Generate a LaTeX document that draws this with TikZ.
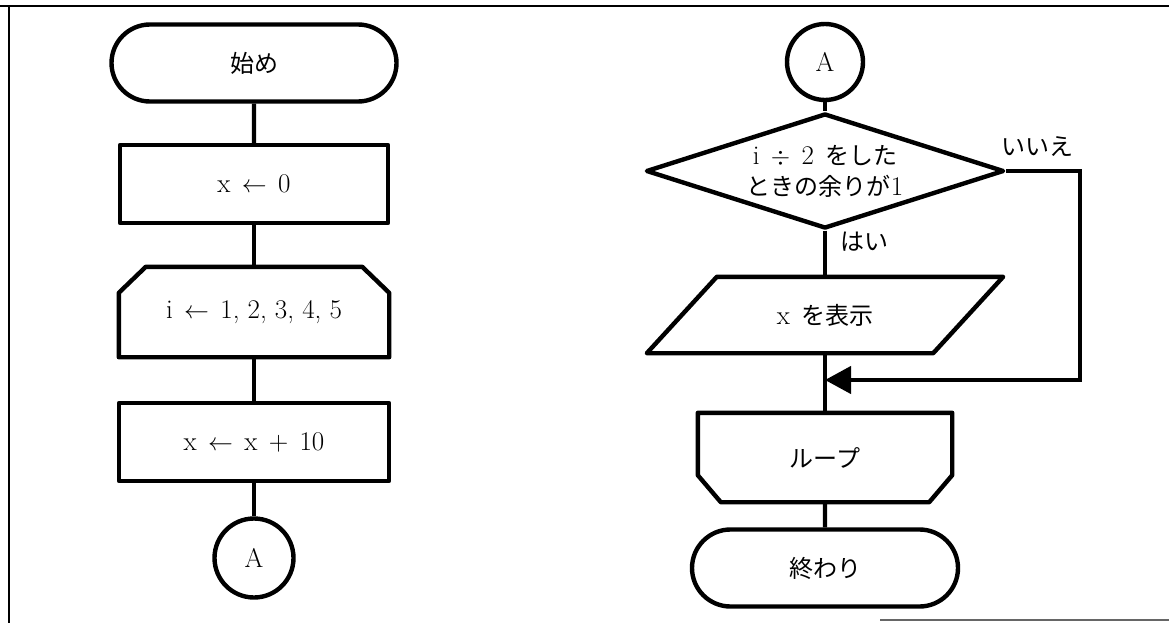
\documentclass[tikz,border=0pt]{standalone}
\usepackage{fontspec}
\newfontfamily\cjk{Noto Sans CJK JP}
\usetikzlibrary{shapes.misc,shapes.geometric,arrows.meta,calc}
\newcommand\gapx{\hspace{0.42em}}
\newcommand\jp[1]{{\cjk\fontsize{24}{33}\selectfont #1}}
\begin{document}
\begin{tikzpicture}[x=1pt,y=-1pt,
  every node/.style={font=\fontsize{27}{33}\selectfont, inner sep=0pt},
  shp/.style={draw=black, line width=4.4pt, line join=round},
  term/.style={shp, rounded rectangle, minimum width=285pt, minimum height=77pt},
  procbox/.style={shp, rectangle, minimum width=270pt, minimum height=78pt},
  conn/.style={shp, circle, minimum size=78pt},
  flow/.style={line width=4.4pt},
  frame/.style={line width=2.5pt}]
\useasboundingbox (0,0) rectangle (1169,623);
% frame
\draw[frame] (0,6) -- (1169,6);
\draw[frame] (9,6) -- (9,623);
\draw[line width=1.2pt, black!60] (880,620) -- (1169,620);

% left column
\node[term] (start) at (254,63) {\jp{始め}};
\node[procbox, minimum width=268pt] (init) at (254,184) {x\gapx$\leftarrow$\gapx0};
\node[minimum width=270pt, minimum height=90pt] (ls) at (254,312) {i\gapx$\leftarrow$\gapx1, 2, 3, 4, 5};
\draw[shp] (ls.south west) -- ($(ls.north west)+(0,26)$) -- ($(ls.north west)+(27,0)$)
  -- ($(ls.north east)+(-27,0)$) -- ($(ls.north east)+(0,26)$) -- (ls.south east) -- cycle;
\node[procbox] (add) at (254,442) {x\gapx$\leftarrow$\gapx x\gapx+\gapx10};
\node[conn, minimum size=79pt] (ca) at (254,558) {A};

\draw[flow] (start) -- (init);
\draw[flow] (init) -- (ls.north);
\draw[flow] (ls.south) -- (add);
\draw[flow] (add) -- (ca);

% right column
\node[conn, minimum size=76pt] (cb) at (825,62) {A};
\node[shp, diamond, aspect=3.11, inner sep=-10pt, minimum width=358pt, minimum height=115pt, align=center] (dec) at (825,171)
  {i\gapx$\div$\gapx2\gapx\jp{をした}\\[-2pt]\jp{ときの余りが}1};
\node (no) at (1037,147) {\jp{いいえ}};
\node (yes) at (864,242) {\jp{はい}};
\node[minimum width=286pt, minimum height=76pt] (disp) at (825,315) {x\gapx\jp{を表示}};
\draw[shp] ($(disp.south west)+(-35,0)$) -- ($(disp.north west)+(35,0)$)
  -- ($(disp.north east)+(35,0)$) -- ($(disp.south east)+(-35,0)$) -- cycle;
\coordinate (merge) at (825,380);
\coordinate (nr) at (1080,380);
\node[minimum width=254pt, minimum height=89pt] (le) at (825,457.5) {\jp{ループ}};
\draw[shp] (le.north west) -- ($(le.south west)+(0,-27)$) -- ($(le.south west)+(23,0)$)
  -- ($(le.south east)+(-23,0)$) -- ($(le.south east)+(0,-27)$) -- (le.north east) -- cycle;
\node[term, minimum width=266pt] (end) at (825,568) {\jp{終わり}};

\draw[flow] (cb) -- (dec.north);
\draw[flow] (dec.south) -- (disp.north);
\draw[flow] (disp.south) -- (le.north);
\draw[flow] (le.south) -- (end);
\draw[flow, -{Triangle[length=26pt,width=27pt]}] (dec.east) -| (nr) -- (merge);
\end{tikzpicture}
\end{document}
